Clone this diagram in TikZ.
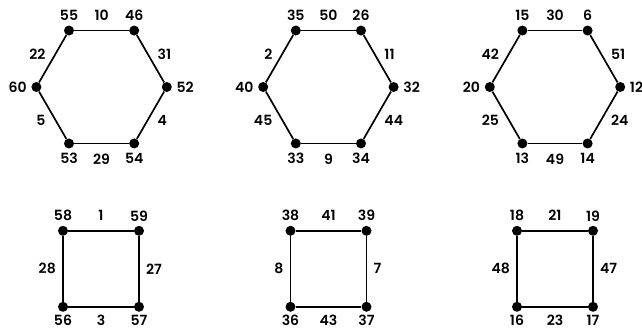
\documentclass[tikz,border=0pt]{standalone}
\usepackage{fontspec}
\setmainfont{Poppins SemiBold}
\begin{document}
\begin{tikzpicture}[
    dot/.style={circle,fill,inner sep=0pt,minimum size=0.25cm},
    side/.style={line width=1.2pt},
    low/.style={label distance=1pt},
    every node/.style={font=\fontsize{10pt}{12pt}\selectfont},
    every label/.style={inner sep=1pt},
    label distance=2pt]
  \useasboundingbox (0,0) rectangle (16.05,8.25);
  % hexagons
  \begin{scope}[shift={(2.54,6.075)}]
    \node[dot,label=above:55] (v55) at (120:1.63) {};
    \node[dot,label=above:46] (v46) at (60:1.63) {};
    \node[dot,label=right:52] (v52) at (0:1.63) {};
    \node[dot,label=below:54] (v54) at (-60:1.63) {};
    \node[dot,label=below:53] (v53) at (-120:1.63) {};
    \node[dot,label=left:60] (v60) at (180:1.63) {};
    \draw[side] (v55) -- node[above=5.5pt,inner sep=1pt] {10} (v46);
    \draw[side] (v46) -- node[right=3.5pt,yshift=3.4pt,inner sep=1pt] {31} (v52);
    \draw[side] (v52) -- node[right=3.5pt,yshift=-3.4pt,inner sep=1pt] {4} (v54);
    \draw[side] (v54) -- node[below=6pt,inner sep=1pt] {29} (v53);
    \draw[side] (v53) -- node[left=3.5pt,yshift=-3.4pt,inner sep=1pt] {5} (v60);
    \draw[side] (v60) -- node[left=3.5pt,yshift=3.4pt,inner sep=1pt] {22} (v55);
  \end{scope}
  \begin{scope}[shift={(8.21,6.075)}]
    \node[dot,label=above:35] (v35) at (120:1.63) {};
    \node[dot,label=above:26] (v26) at (60:1.63) {};
    \node[dot,label=right:32] (v32) at (0:1.63) {};
    \node[dot,label=below:34] (v34) at (-60:1.63) {};
    \node[dot,label=below:33] (v33) at (-120:1.63) {};
    \node[dot,label=left:40] (v40) at (180:1.63) {};
    \draw[side] (v35) -- node[above=5.5pt,inner sep=1pt] {50} (v26);
    \draw[side] (v26) -- node[right=3.5pt,yshift=3.4pt,inner sep=1pt] {11} (v32);
    \draw[side] (v32) -- node[right=3.5pt,yshift=-3.4pt,inner sep=1pt] {44} (v34);
    \draw[side] (v34) -- node[below=6pt,inner sep=1pt] {9} (v33);
    \draw[side] (v33) -- node[left=3.5pt,yshift=-3.4pt,inner sep=1pt] {45} (v40);
    \draw[side] (v40) -- node[left=3.5pt,yshift=3.4pt,inner sep=1pt] {2} (v35);
  \end{scope}
  \begin{scope}[shift={(13.875,6.075)}]
    \node[dot,label=above:15] (v15) at (120:1.63) {};
    \node[dot,label=above:6] (v6) at (60:1.63) {};
    \node[dot,label=right:12] (v12) at (0:1.63) {};
    \node[dot,label=below:14] (v14) at (-60:1.63) {};
    \node[dot,label=below:13] (v13) at (-120:1.63) {};
    \node[dot,label=left:20] (v20) at (180:1.63) {};
    \draw[side] (v15) -- node[above=5.5pt,inner sep=1pt] {30} (v6);
    \draw[side] (v6) -- node[right=3.5pt,yshift=3.4pt,inner sep=1pt] {51} (v12);
    \draw[side] (v12) -- node[right=3.5pt,yshift=-3.4pt,inner sep=1pt] {24} (v14);
    \draw[side] (v14) -- node[below=6pt,inner sep=1pt] {49} (v13);
    \draw[side] (v13) -- node[left=3.5pt,yshift=-3.4pt,inner sep=1pt] {25} (v20);
    \draw[side] (v20) -- node[left=3.5pt,yshift=3.4pt,inner sep=1pt] {42} (v15);
  \end{scope}
  % squares
  \begin{scope}[shift={(2.525,1.53)}]
    \node[dot,label=above:58] (v58) at (-0.95,0.95) {};
    \node[dot,label=above:59] (v59) at (0.95,0.95) {};
    \node[dot,low,label={[inner sep=0pt]below:57}] (v57) at (0.95,-0.95) {};
    \node[dot,low,label={[inner sep=0pt]below:56}] (v56) at (-0.95,-0.95) {};
    \draw[side] (v58) -- node[above=5.5pt,inner sep=1pt] {1} (v59);
    \draw[side] (v59) -- node[right=3.5pt,inner sep=1pt] {27} (v57);
    \draw[side] (v57) -- node[below=5pt,inner sep=0pt] {3} (v56);
    \draw[side] (v56) -- node[left=3.5pt,inner sep=1pt] {28} (v58);
  \end{scope}
  \begin{scope}[shift={(8.2125,1.53)}]
    \node[dot,label=above:38] (v38) at (-0.95,0.95) {};
    \node[dot,label=above:39] (v39) at (0.95,0.95) {};
    \node[dot,low,label={[inner sep=0pt]below:37}] (v37) at (0.95,-0.95) {};
    \node[dot,low,label={[inner sep=0pt]below:36}] (v36) at (-0.95,-0.95) {};
    \draw[side] (v38) -- node[above=5.5pt,inner sep=1pt] {41} (v39);
    \draw[side] (v39) -- node[right=3.5pt,inner sep=1pt] {7} (v37);
    \draw[side] (v37) -- node[below=5pt,inner sep=0pt] {43} (v36);
    \draw[side] (v36) -- node[left=3.5pt,inner sep=1pt] {8} (v38);
  \end{scope}
  \begin{scope}[shift={(13.875,1.53)}]
    \node[dot,label=above:18] (v18) at (-0.95,0.95) {};
    \node[dot,label=above:19] (v19) at (0.95,0.95) {};
    \node[dot,low,label={[inner sep=0pt]below:17}] (v17) at (0.95,-0.95) {};
    \node[dot,low,label={[inner sep=0pt]below:16}] (v16) at (-0.95,-0.95) {};
    \draw[side] (v18) -- node[above=5.5pt,inner sep=1pt] {21} (v19);
    \draw[side] (v19) -- node[right=3.5pt,inner sep=1pt] {47} (v17);
    \draw[side] (v17) -- node[below=5pt,inner sep=0pt] {23} (v16);
    \draw[side] (v16) -- node[left=3.5pt,inner sep=1pt] {48} (v18);
  \end{scope}
\end{tikzpicture}
\end{document}
